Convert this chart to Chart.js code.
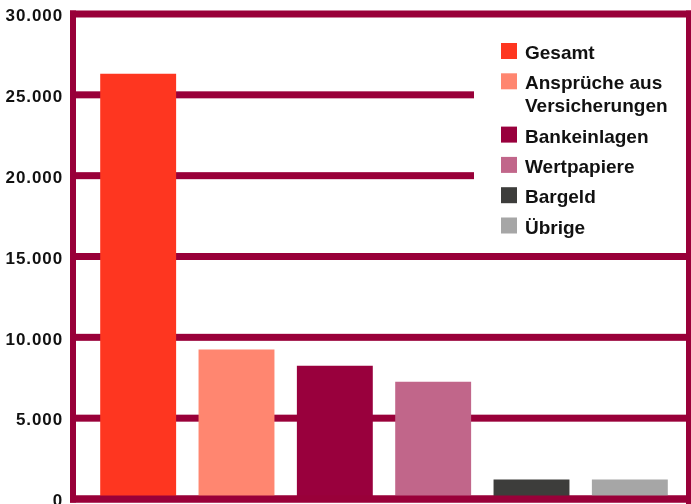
<!DOCTYPE html>
<html>
<head>
<meta charset="utf-8">
<script src="https://cdn.jsdelivr.net/npm/chart.js@4/dist/chart.umd.min.js"></script>
<style>
  html, body { margin: 0; padding: 0; background: #ffffff; }
  #wrap { width: 691px; height: 504px; position: relative; }
</style>
</head>
<body>
<div id="wrap"><canvas id="c" width="691" height="504"></canvas></div>
<script>
// ---- data ----
const categories = ["Gesamt", ["Ansprüche aus", "Versicherungen"], "Bankeinlagen", "Wertpapiere", "Bargeld", "Übrige"];
const values = [26300, 9250, 8250, 7250, 1200, 1200];
const barColors = ["#fe3620", "#ff8670", "#99003d", "#c1668a", "#3d3d3b", "#a6a6a6"];
const yTicks = [0, 5000, 10000, 15000, 20000, 25000, 30000];

const GRID = "#990039";
const fmt = v => String(v).replace(/\B(?=(\d{3})+(?!\d))/g, ".");

const framePlugin = {
  id: "frame",
  beforeDraw(chart) {
    chart.ctx.letterSpacing = "0.9px";
  },
  beforeDatasetsDraw(chart) {
    const ctx = chart.ctx, y = chart.scales.y;
    ctx.letterSpacing = "0px";
    ctx.save();
    ctx.fillStyle = GRID;
    y.ticks.forEach(t => {
      const py = y.getPixelForValue(t.value);
      ctx.fillRect(70, py - 3.5, 621, 7);
    });
    // legend background box
    ctx.fillStyle = "#ffffff";
    ctx.fillRect(474, 18, 214, 228);
    ctx.restore();
  },
  afterDatasetsDraw(chart) {
    const ctx = chart.ctx, y = chart.scales.y;
    const top = y.getPixelForValue(30000), bot = y.getPixelForValue(0);
    ctx.save();
    ctx.fillStyle = GRID;
    ctx.fillRect(70, bot - 3.5, 621, 7);
    ctx.fillRect(70, top - 3.5, 6, bot - top + 7);
    ctx.fillRect(686, top - 3.5, 5, 504 - top + 3.5);
    // legend
    ctx.font = "bold 19px 'Liberation Sans', Arial, sans-serif";
    ctx.textBaseline = "alphabetic";
    ctx.textAlign = "left";
    let ry = 43;
    categories.forEach((cat, i) => {
      const lines = Array.isArray(cat) ? cat : [cat];
      ctx.fillStyle = barColors[i];
      ctx.fillRect(501, ry, 16, 16);
      ctx.fillStyle = "#111111";
      lines.forEach((ln, k) => ctx.fillText(ln, 525, ry + 16 + k * 23));
      ry += 30.3 + (lines.length - 1) * 23;
    });
    ctx.restore();
  }
};

new Chart(document.getElementById("c"), {
  type: "bar",
  data: {
    labels: categories,
    datasets: [{
      data: values,
      backgroundColor: barColors,
      borderWidth: 0,
      barPercentage: 0.772,
      categoryPercentage: 1.0
    }]
  },
  options: {
    responsive: false,
    animation: false,
    devicePixelRatio: 1,
    layout: { padding: { left: 0, right: 12, top: 14, bottom: 5 } },
    plugins: { legend: { display: false }, tooltip: { enabled: false } },
    scales: {
      x: { display: false },
      y: {
        min: 0, max: 30000,
        afterBuildTicks: s => { s.ticks = yTicks.map(v => ({ value: v })); },
        afterFit: s => { s.width = 89; s.paddingTop = 0; s.paddingBottom = 0; },
        grid: { display: false, drawTicks: false, tickLength: 0 },
        border: { display: false },
        ticks: {
          padding: 26,
          labelOffset: 2.5,
          color: "#111111",
          font: { family: "'Liberation Sans', Arial, sans-serif", weight: "bold", size: 17 },
          callback: v => fmt(v)
        }
      }
    }
  },
  plugins: [framePlugin]
});
</script>
</body>
</html>
